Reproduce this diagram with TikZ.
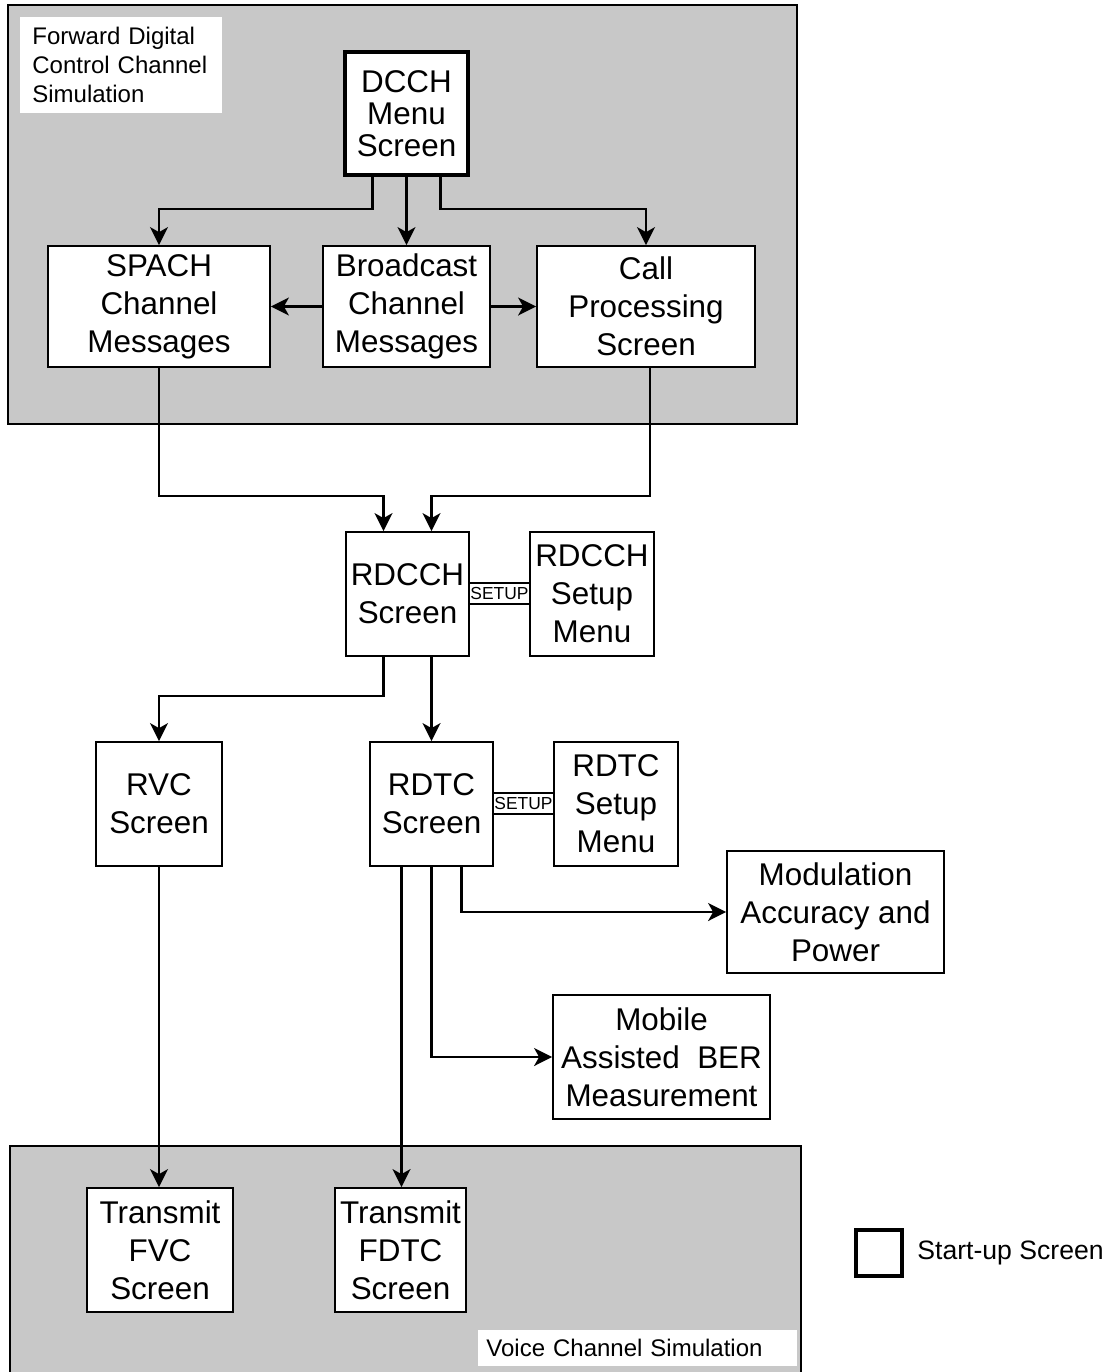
\documentclass[tikz,border=0pt]{standalone}
\usepackage{fontspec}
\setmainfont{Liberation Sans}
\usetikzlibrary{arrows.meta,positioning}
\definecolor{simGray}{HTML}{C8C8C8}
\newcommand{\scrfont}{\fontsize{15.7}{19}\selectfont}
\newcommand{\lblfont}{\fontsize{12}{14.3}\selectfont}
\newcommand{\setupfont}{\fontsize{8.7}{9}\selectfont}

\begin{document}
\begin{tikzpicture}[x=0.5pt,y=-0.5pt,
  region/.style={draw,line width=0.8pt,fill=simGray},
  scr/.style={draw,line width=0.9pt,fill=white,align=center,inner sep=0pt,font=\scrfont},
  startup/.style={scr,line width=2pt},
  setupbox/.style={draw,line width=0.6pt,fill=white,inner sep=0pt,font=\setupfont,minimum height=10.5pt,minimum width=30.5pt},
  lbl/.style={fill=white,align=left,inner ysep=0pt,inner xsep=6pt,font=\lblfont},
  arr/.style={line width=1.1pt,-{Stealth[length=9pt,width=9pt,inset=2.5pt]}}]
\useasboundingbox (0,0) rectangle (1108,1372);
\draw[region] (8,5) rectangle (797,424);
\draw[region] (10,1146) rectangle (801,1380);
\node[lbl,anchor=west,text width=89pt,minimum height=48pt] (fdccLbl) at (20,65) {Forward Digital\\Control Channel\\Simulation};
\node[lbl,anchor=west,inner xsep=4pt,text width=151.5pt,minimum height=18pt] (vcLbl) at (478,1348) {Voice Channel Simulation};

% screens
\node[startup,font=\fontsize{15.7}{16}\selectfont,minimum width=61.5pt,minimum height=61.5pt] (dcch) at (406.5,113.5) {DCCH\\Menu\\Screen};
\node[scr,minimum width=111pt,minimum height=60.5pt] (spach) at (159,306.5) {SPACH\\Channel\\Messages};
\node[scr,minimum width=83.5pt,minimum height=60.5pt] (bcast) at (406.5,306.5) {Broadcast\\Channel\\Messages};
\node[scr,minimum width=109pt,minimum height=60.5pt] (callp) at (646,306.5) {Call\\Processing\\Screen};
\node[scr,minimum width=61.5pt,minimum height=62pt] (rdcch) at (407.5,594) {RDCCH\\Screen};
\node[scr,minimum width=62pt,minimum height=62pt] (rdcchset) at (592,594) {RDCCH\\Setup\\Menu};
\node[scr,minimum width=63pt,minimum height=62pt] (rvc) at (159,804) {RVC\\Screen};
\node[scr,minimum width=61.5pt,minimum height=62pt] (rdtc) at (431.5,804) {RDTC\\Screen};
\node[scr,minimum width=62pt,minimum height=62pt] (rdtcset) at (616,804) {RDTC\\Setup\\Menu};
\node[scr,minimum width=108.5pt,minimum height=61pt] (modul) at (835.5,912) {Modulation\\Accuracy and\\Power};
\node[scr,minimum width=108.5pt,minimum height=62pt] (mobile) at (661.5,1057) {Mobile\\Assisted~ BER\\Measurement};
\node[scr,minimum width=73pt,minimum height=62pt] (tfvc) at (160,1250) {Transmit\\FVC\\Screen};
\node[scr,minimum width=65.5pt,minimum height=62pt] (tfdtc) at (400.5,1250) {Transmit\\FDTC\\Screen};
\node[setupbox] (setupA) at (499.5,593.5) {SETUP};
\node[setupbox] (setupB) at (523.5,803.5) {SETUP};

% legend
\node[draw,line width=2pt,minimum size=23pt,inner sep=0pt] (startsq) at (879,1253) {};
\node[right=6.5pt of startsq,inner sep=0pt,font=\fontsize{13.3}{15}\selectfont] (startlbl) {Start-up Screen};

% connectors
\draw[arr] ([xshift=-17pt]dcch.south) -- ++(0,-16pt) -| (spach.north);
\draw[arr] (dcch.south) -- (bcast.north);
\draw[arr] ([xshift=17pt]dcch.south) -- ++(0,-16pt) -| (callp.north);
\draw[arr] (bcast.west) -- (spach.east);
\draw[arr] (bcast.east) -- (callp.west);
\draw[arr] (spach.south) -- ++(0,-64pt) -| ([xshift=-12pt]rdcch.north);
\draw[arr] ([xshift=2pt]callp.south) -- ++(0,-64pt) -| ([xshift=12pt]rdcch.north);
\draw[arr] ([xshift=-12pt]rdcch.south) -- ++(0,-19.5pt) -| (rvc.north);
\draw[arr] (rdcch.south -| rdtc.north) -- (rdtc.north);
\draw[arr] (rvc.south) -- (rvc.south |- tfvc.north);
\draw[arr] ([xshift=-15pt]rdtc.south) -- ([xshift=-15pt]rdtc.south |- tfdtc.north);
\draw[arr] (rdtc.south) |- (mobile.west);
\draw[arr] ([xshift=15pt]rdtc.south) |- (modul.west);
\end{tikzpicture}
\end{document}
